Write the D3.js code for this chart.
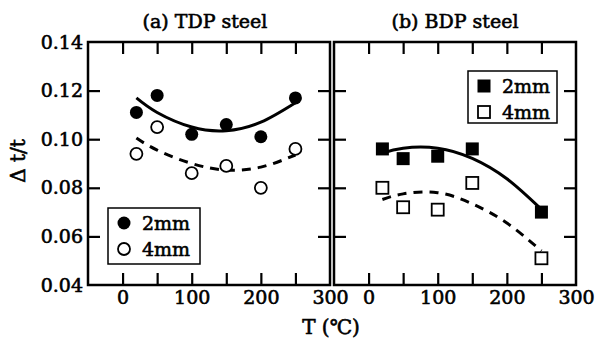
<!DOCTYPE html>
<html>
<head>
<meta charset="utf-8">
<script src="https://cdn.jsdelivr.net/npm/d3@7"></script>
<style>
  body { margin: 0; background: #fff; }
  svg text { font-family: "DejaVu Serif", serif; fill: #000; stroke: #000; stroke-width: 0.6px; }
</style>
</head>
<body>
<div id="container"></div>
<script>
  /* DATA */
  // measured points
  const tdpTemps = [20, 50, 100, 150, 200, 250];
  const tdp2mm = [0.111, 0.118, 0.102, 0.106, 0.101, 0.117];
  const tdp4mm = [0.094, 0.105, 0.086, 0.089, 0.080, 0.096];

  const bdpTemps = [20, 50, 100, 150, 250];
  const bdp2mm = [0.096, 0.092, 0.093, 0.096, 0.070];
  const bdp4mm = [0.080, 0.072, 0.071, 0.082, 0.051];

  // fitted curves
  const fitTemps = [20, 50, 100, 150, 200, 250];
  const tdpFit2mm = [0.117, 0.111, 0.105, 0.1035, 0.107, 0.115];
  const tdpFit4mm = [0.1005, 0.0955, 0.090, 0.0873, 0.0885, 0.0935];
  const bdpFit2mm = [0.0943, 0.0963, 0.0963, 0.0921, 0.0837, 0.0711];
  const bdpFit4mm = [0.0752, 0.0775, 0.078, 0.0734, 0.0655, 0.054];

  const yTicks = [0.04, 0.06, 0.08, 0.10, 0.12, 0.14];
  const xTickMarks = [0, 50, 100, 150, 200, 250];
  const xTickLabels = [0, 100, 200, 300];
  const legendLabels = ["2mm", "4mm"];

  /* LAYOUT */
  const width = 596, height = 341;
  const plotTop = 42, plotBottom = 285;
  const tick = 12;

  const svg = d3.select("#container").append("svg")
      .attr("width", width)
      .attr("height", height);

  const yScale = d3.scaleLinear().domain([0.04, 0.14]).range([plotBottom, plotTop]);

  const panels = [
    { title: "(a) TDP steel", x0: 88, x1: 330, temps: tdpTemps, s2: tdp2mm, s4: tdp4mm,
      f2: tdpFit2mm, f4: tdpFit4mm, marker: "circle", yLabels: true,
      legend: { x: 108, y: 208, w: 92, h: 56 } },
    { title: "(b) BDP steel", x0: 334, x1: 576, temps: bdpTemps, s2: bdp2mm, s4: bdp4mm,
      f2: bdpFit2mm, f4: bdpFit4mm, marker: "square", yLabels: false,
      legend: { x: 468, y: 71, w: 89, h: 52 } }
  ];

  panels.forEach(p => {
    const xScale = d3.scaleLinear().domain([-50, 300]).range([p.x0, p.x1]);
    const g = svg.append("g");

    // inward ticks on all four sides
    g.append("g")
      .attr("transform", `translate(0,${plotBottom})`)
      .call(d3.axisBottom(xScale).tickValues(xTickMarks).tickSize(-tick).tickFormat(""));
    g.append("g")
      .attr("transform", `translate(0,${plotTop})`)
      .call(d3.axisTop(xScale).tickValues(xTickMarks).tickSize(-tick).tickFormat(""));
    g.append("g")
      .attr("transform", `translate(${p.x0},0)`)
      .call(d3.axisLeft(yScale).tickValues(yTicks.slice(1, -1)).tickSize(-tick).tickFormat(""));
    g.append("g")
      .attr("transform", `translate(${p.x1},0)`)
      .call(d3.axisRight(yScale).tickValues(yTicks.slice(1, -1)).tickSize(-tick).tickFormat(""));

    g.selectAll(".domain").remove();
    g.selectAll(".tick line").attr("stroke", "#000").attr("stroke-width", 2.2);

    // x tick labels
    const xl = g.append("g")
      .attr("transform", `translate(0,${plotBottom})`)
      .call(d3.axisBottom(xScale).tickValues(xTickLabels).tickSize(0).tickPadding(6).tickFormat(d3.format("d")));
    xl.select(".domain").remove();
    xl.selectAll("text").attr("font-size", 19).attr("font-family", "DejaVu Serif");

    if (p.yLabels) {
      const yl = g.append("g")
        .attr("transform", `translate(${p.x0},0)`)
        .call(d3.axisLeft(yScale).tickValues(yTicks).tickSize(0).tickPadding(5).tickFormat(d3.format(".2f")));
      yl.select(".domain").remove();
      yl.selectAll("text").attr("font-size", 19).attr("font-family", "DejaVu Serif");
    }

    // frame
    g.append("rect")
      .attr("x", p.x0).attr("y", plotTop)
      .attr("width", p.x1 - p.x0).attr("height", plotBottom - plotTop)
      .attr("fill", "none").attr("stroke", "#000").attr("stroke-width", 2.5);

    // title
    g.append("text")
      .attr("x", (p.x0 + p.x1) / 2 + (p.yLabels ? -4 : 0))
      .attr("y", 28)
      .attr("text-anchor", "middle")
      .attr("font-size", 19)
      .text(p.title);

    // fitted curves
    const line = d3.line()
      .x((d, i) => xScale(fitTemps[i]))
      .y(d => yScale(d))
      .curve(d3.curveNatural);

    g.append("path").datum(p.f2)
      .attr("d", line)
      .attr("fill", "none").attr("stroke", "#000").attr("stroke-width", 3);
    g.append("path").datum(p.f4)
      .attr("d", line)
      .attr("fill", "none").attr("stroke", "#000").attr("stroke-width", 3)
      .attr("stroke-dasharray", "9,7");

    // markers
    const drawMarker = (sel, filled) => {
      if (p.marker === "circle") {
        sel.append("circle").attr("r", filled ? 6.5 : 6)
          .attr("fill", filled ? "#000" : "#fff")
          .attr("stroke", "#000").attr("stroke-width", filled ? 0 : 1.8);
      } else {
        const s = filled ? 13 : 12;
        sel.append("rect").attr("x", -s / 2).attr("y", -s / 2).attr("width", s).attr("height", s)
          .attr("fill", filled ? "#000" : "#fff")
          .attr("stroke", "#000").attr("stroke-width", filled ? 0 : 1.8);
      }
    };

    [[p.s2, true], [p.s4, false]].forEach(([vals, filled]) => {
      g.selectAll(null)
        .data(vals)
        .join("g")
        .attr("transform", (d, i) => `translate(${xScale(p.temps[i])},${yScale(d)})`)
        .each(function () { drawMarker(d3.select(this), filled); });
    });

    // legend
    const L = p.legend;
    const lg = g.append("g");
    lg.append("rect")
      .attr("x", L.x).attr("y", L.y).attr("width", L.w).attr("height", L.h)
      .attr("fill", "#fff").attr("stroke", "#000").attr("stroke-width", 1.5);
    legendLabels.forEach((lab, i) => {
      const cy = L.y + 15 + i * 26;
      const m = lg.append("g").attr("transform", `translate(${L.x + 16},${cy})`);
      drawMarker(m, i === 0);
      lg.append("text")
        .attr("x", L.x + 34).attr("y", cy + 7)
        .attr("font-size", 19)
        .text(lab);
    });
  });

  // axis titles
  svg.append("text")
    .attr("transform", "translate(25,161) rotate(-90)")
    .attr("text-anchor", "middle")
    .attr("font-size", 20)
    .text("Δ t/t");

  svg.append("text")
    .attr("x", 331).attr("y", 334)
    .attr("text-anchor", "middle")
    .attr("font-size", 20)
    .text("T (℃)");
</script>
</body>
</html>
